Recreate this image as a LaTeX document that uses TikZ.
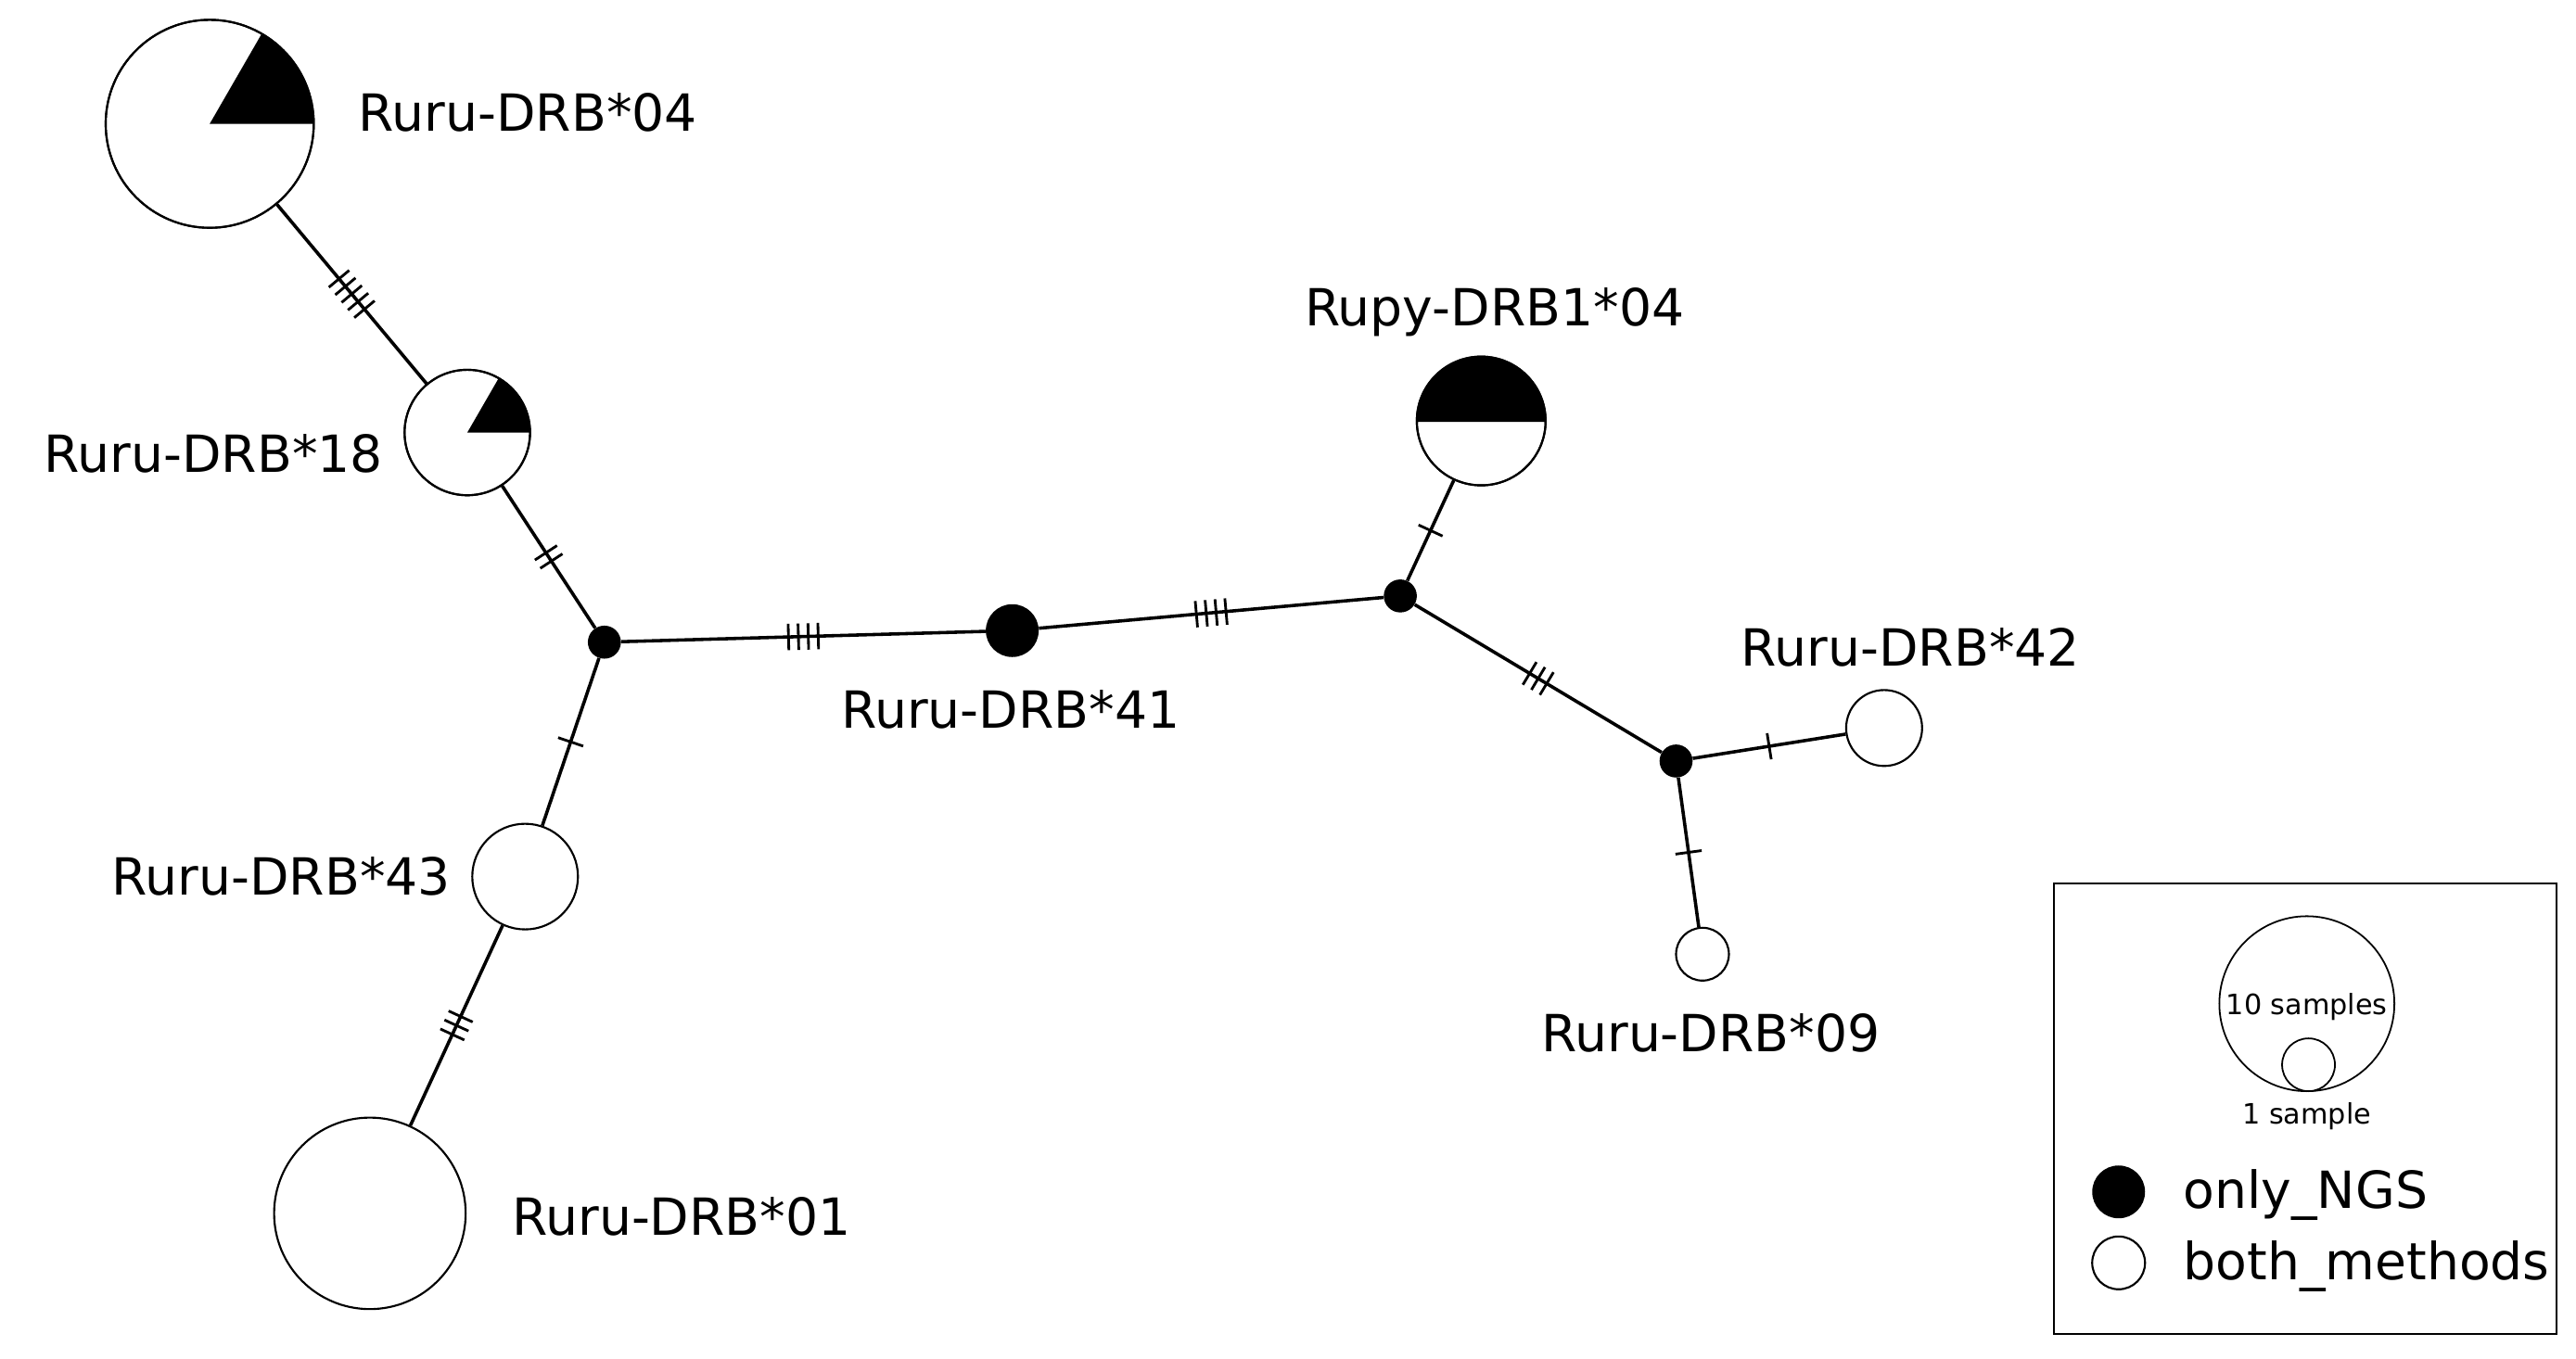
\documentclass[tikz,border=0pt]{standalone}
\usepackage{fontspec}
\setmainfont{DejaVu Sans}
\usetikzlibrary{decorations.markings,calc}
\begin{document}
\begin{tikzpicture}[x=1pt,y=-1pt,
 hap/.style={circle,draw,fill=white,line width=1.2pt,inner sep=0,minimum size=#1},
 med/.style={circle,fill=black,inner sep=0,minimum size=20},
 lab/.style={font=\fontsize{31}{31}\selectfont,inner sep=0},
 ed/.style={line width=2pt},
 ticks/.style={postaction={decorate,decoration={markings,mark=at position 0.5 with {\foreach \i in {1,...,#1}{\draw[line width=1.6pt] ({(\i-(#1+1)/2)*6},-8)--++(0,16);}}}}}]
\useasboundingbox (0,0) rectangle (1560,823);
\node[hap=126] (n04) at (127,75) {};
\node[hap=76] (n18) at (283,262) {};
\node[med] (j1) at (366,389) {};
\node[hap=64] (n43) at (318,531) {};
\node[hap=116] (n01) at (224,735) {};
\node[med,minimum size=32] (n41) at (613,382) {};
\node[med] (j2) at (848,361) {};
\node[hap=78] (rp) at (897,255) {};
\node[med] (j3) at (1015,461) {};
\node[hap=46] (n42) at (1141,441) {};
\node[hap=32] (n09) at (1031,578) {};
% pies
\fill ($(n04.center)+(63,0)$) arc[start angle=0,end angle=-60,radius=63] -- (n04.center) -- cycle;
\draw[line width=1.2pt] (n04) circle[radius=63];
\fill ($(n18.center)+(38,0)$) arc[start angle=0,end angle=-60,radius=38] -- (n18.center) -- cycle;
\draw[line width=1.2pt] (n18) circle[radius=38];
\fill ($(rp.center)+(39,0)$) arc[start angle=0,end angle=-180,radius=39] -- cycle;
\draw[line width=1.2pt] (rp.center) circle[radius=39] ($(rp.center)+(-39,0)$) -- ($(rp.center)+(39,0)$);
% edges
\draw[ed,ticks=5] (n04) -- (n18);
\draw[ed,ticks=2] (n18) -- (j1);
\draw[ed,ticks=1] (j1) -- (n43);
\draw[ed,ticks=3] (n43) -- (n01);
\draw[ed,ticks=4] (j1) -- (n41);
\draw[ed,ticks=4] (n41) -- (j2);
\draw[ed,ticks=1] (j2) -- (rp);
\draw[ed,ticks=3] (j2) -- (j3);
\draw[ed,ticks=1] (j3) -- (n42);
\draw[ed,ticks=1] (j3) -- (n09);
% labels
\node[lab,anchor=west] (l04) at (217,68) {Ruru-DRB*04};
\node[lab,anchor=east] (l18) at (232,275) {Ruru-DRB*18};
\node[lab,anchor=east] (l43) at (273,531) {Ruru-DRB*43};
\node[lab,anchor=west] (l01) at (310,737) {Ruru-DRB*01};
\node[lab] (l41) at (612,430) {Ruru-DRB*41};
\node[lab] (lrp) at (905,189) {Rupy-DRB1*04};
\node[lab] (l42) at (1157,392) {Ruru-DRB*42};
\node[lab] (l09) at (1036,626) {Ruru-DRB*09};
% legend
\draw[line width=1.2pt] (1244,535) rectangle (1548,808);
\node[hap=106,line width=1pt] (lg10) at (1397,608) {};
\node[hap=32,line width=1pt] (lg1) at (1398,645) {};
\node[font=\fontsize{17}{17}\selectfont,inner sep=0] (t10) at (1397,610) {10 samples};
\node[font=\fontsize{17}{17}\selectfont,inner sep=0] (t1) at (1397,676) {1 sample};
\node[med,minimum size=32] (lgb) at (1283,722) {};
\node[hap=32] (lgw) at (1283,765) {};
\node[lab,anchor=west] (tb) at (1322,724) {only\_NGS};
\node[lab,anchor=west] (tw) at (1322,767) {both\_methods};
\end{tikzpicture}
\end{document}
